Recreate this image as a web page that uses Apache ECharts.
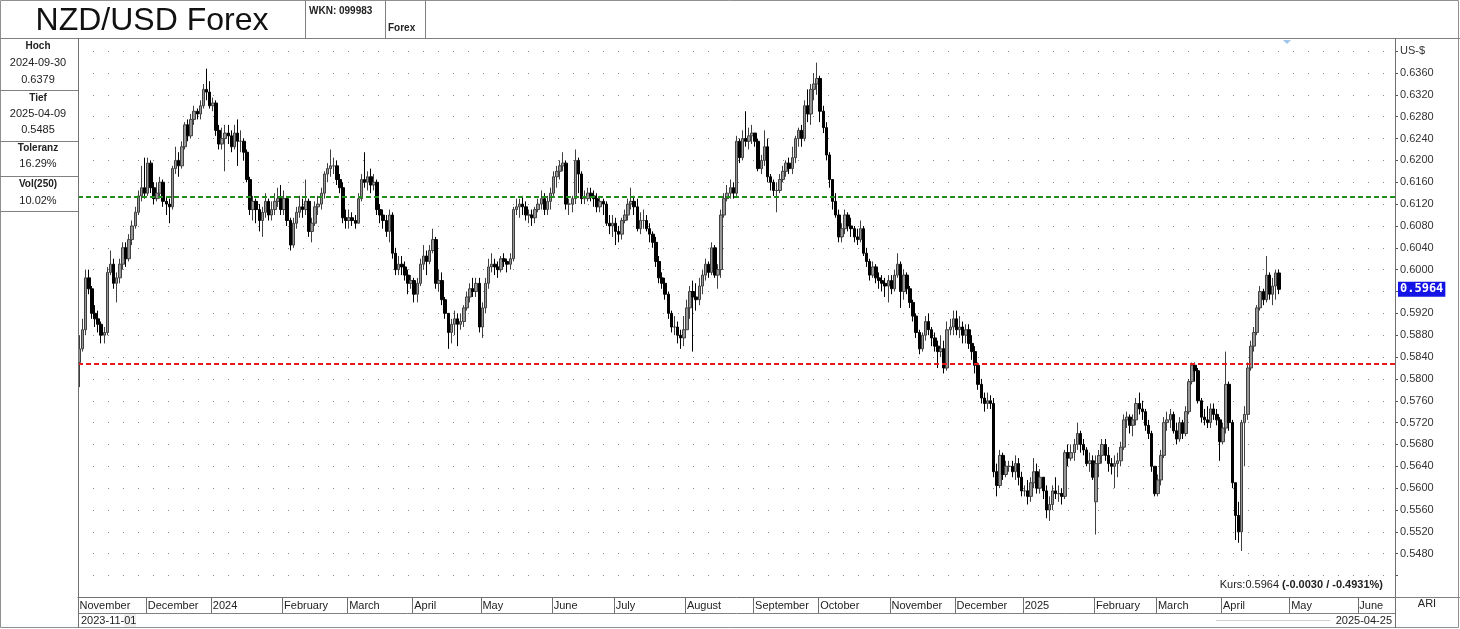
<!DOCTYPE html>
<html><head><meta charset="utf-8">
<script src="https://cdn.jsdelivr.net/npm/echarts/dist/echarts.min.js"></script>
<style>html,body{margin:0;padding:0;background:#fff}#c{width:1460px;height:629px}</style>
</head><body><div id="c"></div>
<script>
// ---------- data (prices in 1/10000 US-$) ----------
const firstDate = '2023-11-01';
const axisEndDate = '2025-06-17';
const firstOpen = 5830;
const gapOpens = [['2025-02-03', 5575]];
const closes = [
5855,5890,5985,5965,5920,5910,5900,5880,5885,5995,6010,5975,5985,6010,6040,6020,6055,6080,6105,6135,6150,6140,
6195,6150,6130,6140,6160,6125,6120,6115,6185,6200,6190,6225,6265,6245,6275,6290,6285,6300,6330,6325,6300,
6305,6255,6230,6240,6250,6245,6225,6250,6235,6235,6215,6165,6110,6125,6110,6090,6105,6125,6100,6110,6125,6130,6110,
6130,6090,6045,6085,6105,6115,6110,6125,6070,6085,6115,6120,6140,6175,6185,6190,6190,6165,6150,6095,6090,
6095,6090,6085,6130,6165,6160,6170,6155,6160,6110,6100,6090,6070,6100,6030,6000,6010,6005,5990,5975,5980,
5955,5975,6010,6025,6015,6035,6055,5975,5980,5945,5920,5885,5900,5910,5900,5905,5930,5950,5965,5960,5975,5895,
5930,5975,6005,6010,6005,6000,6020,6015,6010,6020,6110,6115,6120,6115,6100,6100,6095,6110,6120,6130,6110,6125,6140,
6170,6180,6190,6195,6120,6120,6130,6200,6175,6130,6130,6140,6135,6130,6115,6125,6120,6085,6080,6085,
6070,6065,6090,6100,6120,6125,6115,6075,6090,6090,6075,6065,6050,6015,5985,5975,5955,5920,5895,5895,5880,5875,5890,
5930,5960,5950,5945,5970,5990,6010,5995,6040,5990,6000,6100,6130,6140,6150,6140,6235,6205,6240,6235,6245,6250,
6235,6185,6200,6225,6170,6160,6145,6145,6165,6180,6195,6185,6205,6240,6255,6240,6300,6285,6330,6340,6350,
6290,6260,6210,6165,6125,6100,6060,6075,6100,6080,6075,6060,6055,6075,6030,6015,5990,6005,5985,5980,5975,5970,5980,
5965,5990,6010,5960,5990,5965,5940,5915,5885,5855,5880,5905,5890,5875,5860,5850,5855,5820,5890,5895,5910,
5890,5895,5880,5890,5865,5850,5825,5790,5765,5755,5760,5755,5630,5605,5660,5625,5640,5640,5630,5645,5620,5595,
5595,5585,5610,5630,5600,5620,5595,5560,5570,5595,5590,5590,5585,5665,5655,5665,5680,5700,5680,5670,5645,5650,5620,
5645,5660,5680,5660,5645,5640,5645,5650,5675,5725,5730,5715,5725,5755,5745,5740,5715,5700,5640,5590,
5615,5660,5720,5725,5735,5705,5690,5720,5700,5740,5795,5825,5815,5760,5730,5725,5720,5745,5735,5725,5685,
5710,5790,5720,5610,5550,5520,5720,5735,5820,5860,5885,5930,5960,5945,5990,5955,5970,5994,5964
];
const highs = [
5880,5910,6000,6000,5970,5935,5925,5905,5895,6005,6035,6020,5995,6020,6050,6050,6065,6090,6115,6145,6190,6205,
6205,6200,6160,6160,6170,6165,6135,6130,6190,6225,6215,6235,6270,6275,6285,6300,6295,6310,6340,6368,6345,
6315,6310,6265,6260,6265,6265,6255,6265,6275,6255,6240,6220,6170,6135,6130,6120,6115,6140,6130,6125,6140,6150,6155,
6145,6135,6095,6095,6115,6135,6130,6165,6130,6095,6125,6135,6150,6180,6195,6220,6205,6200,6175,6160,6110,
6110,6105,6100,6140,6175,6215,6180,6185,6175,6165,6120,6110,6100,6110,6105,6040,6025,6025,6015,6000,5990,
5985,5985,6020,6045,6035,6045,6075,6060,6000,5995,5950,5920,5910,5925,5920,5920,5935,5960,5975,5985,5985,5985,
5940,5985,6020,6030,6020,6015,6025,6030,6020,6030,6115,6130,6130,6135,6125,6110,6110,6115,6130,6145,6140,6135,6150,
6180,6190,6200,6215,6200,6130,6135,6220,6205,6180,6145,6150,6150,6145,6140,6135,6130,6125,6100,6100,
6095,6080,6095,6110,6130,6150,6135,6130,6105,6110,6100,6085,6070,6060,6025,5995,5985,5960,5925,5915,5905,5890,5915,
5945,5970,5980,5975,5985,6000,6020,6015,6050,6045,6010,6110,6140,6155,6165,6160,6245,6240,6255,6290,6260,6265,
6250,6240,6210,6255,6240,6175,6165,6160,6175,6190,6200,6205,6225,6245,6260,6265,6310,6330,6340,6360,6379,
6355,6300,6270,6215,6165,6140,6110,6085,6110,6105,6095,6080,6075,6090,6080,6040,6020,6015,6010,5995,5990,5985,5990,
5990,6000,6030,6015,6000,5995,5970,5945,5920,5890,5885,5915,5920,5895,5885,5870,5880,5870,5905,5910,5925,
5925,5915,5905,5900,5900,5880,5860,5830,5800,5775,5775,5770,5765,5645,5670,5665,5650,5650,5650,5660,5655,5630,
5605,5615,5620,5655,5645,5635,5615,5605,5585,5605,5620,5605,5600,5670,5680,5680,5690,5720,5705,5690,5675,5665,5660,
5660,5670,5690,5690,5675,5655,5660,5665,5685,5735,5740,5735,5735,5765,5775,5760,5745,5725,5705,5640,
5625,5670,5730,5740,5745,5740,5720,5730,5725,5750,5800,5830,5830,5820,5765,5745,5750,5755,5755,5745,5730,
5720,5850,5795,5725,5610,5575,5725,5750,5830,5870,5895,5935,5970,5965,6025,5995,5985,6000,6000
];
const lows = [
5785,5850,5880,5955,5910,5895,5885,5865,5865,5880,5990,5965,5940,5975,6000,6005,6015,6045,6075,6100,6125,6130,
6135,6140,6120,6125,6130,6115,6100,6085,6110,6175,6170,6185,6220,6235,6240,6265,6275,6275,6295,6310,6295,
6290,6245,6220,6220,6180,6230,6215,6220,6190,6215,6200,6160,6100,6090,6085,6070,6060,6095,6090,6090,6100,6115,6100,
6100,6080,6035,6040,6075,6095,6095,6100,6060,6050,6080,6100,6110,6130,6160,6170,6175,6155,6140,6085,6075,
6075,6080,6075,6085,6125,6150,6145,6140,6145,6100,6085,6075,6060,6050,6020,5990,5990,5990,5980,5955,5965,
5940,5940,5970,6000,5990,6010,6030,5965,5960,5935,5910,5855,5865,5880,5860,5890,5895,5925,5940,5950,5950,5885,
5875,5920,5965,5995,5990,5985,5995,6005,5995,6000,6015,6100,6095,6100,6090,6085,6080,6085,6105,6110,6100,6100,6110,
6135,6150,6165,6180,6110,6100,6105,6120,6140,6120,6120,6125,6125,6115,6105,6105,6100,6080,6065,6060,
6045,6050,6055,6085,6090,6110,6100,6070,6065,6075,6070,6050,6040,6005,5975,5965,5945,5910,5885,5880,5865,5855,5860,
5890,5910,5850,5925,5935,5955,5980,5985,5990,5985,5965,5985,6095,6125,6130,6130,6135,6195,6200,6225,6220,6230,
6225,6180,6175,6190,6160,6145,6135,6105,6140,6160,6170,6175,6175,6195,6225,6225,6235,6270,6265,6310,6320,
6270,6250,6200,6150,6110,6095,6050,6050,6065,6070,6060,6050,6045,6050,6025,6005,5980,5985,5975,5965,5960,5950,5940,
5955,5960,5985,5930,5945,5955,5930,5905,5875,5845,5850,5870,5880,5860,5850,5820,5840,5810,5815,5880,5880,
5880,5875,5865,5865,5855,5835,5810,5780,5755,5740,5745,5745,5620,5585,5600,5615,5620,5630,5620,5615,5605,5585,
5585,5570,5575,5600,5590,5590,5580,5545,5540,5560,5580,5575,5570,5580,5640,5650,5650,5670,5665,5660,5640,5630,5615,
5515,5620,5645,5650,5630,5625,5600,5620,5640,5670,5710,5700,5695,5715,5735,5725,5705,5690,5630,5585,
5585,5605,5655,5705,5710,5700,5680,5685,5690,5695,5735,5790,5795,5755,5720,5715,5710,5710,5725,5715,5650,
5680,5700,5705,5600,5505,5500,5485,5640,5725,5815,5850,5880,5925,5935,5940,5945,5935,5945,5955
];
const greenLevel = 0.6133;
const redLevel = 0.5827;
const yMin = 0.5400, yMax = 0.6440, yStep = 0.0040;
const monthNames = ['January','February','March','April','May','June','July','August','September','October','November','December'];
const titleText = 'NZD/USD Forex';
const wknText = 'WKN: 099983';
const typeText = 'Forex';
const infoRows = [['Hoch','2024-09-30','0.6379'],['Tief','2025-04-09','0.5485'],['Toleranz','16.29%'],['Vol(250)','10.02%']];
const kursText = 'Kurs:0.5964 ';
const kursChange = '(-0.0030 / -0.4931%)';
const footRight = 'ARI';

// ---------- build ----------
const FONT = 'Arial, "Liberation Sans", sans-serif';
const dates = [];
(function(){
  let d = new Date(firstDate + 'T00:00:00Z');
  const end = new Date(axisEndDate + 'T00:00:00Z');
  while (d <= end) {
    const wd = d.getUTCDay();
    if (wd !== 0 && wd !== 6) dates.push(d.toISOString().slice(0,10));
    d = new Date(d.getTime() + 86400000);
  }
})();
const monthStarts = new Set();
dates.forEach((d,i)=>{ if (i===0 || d.slice(0,7)!==dates[i-1].slice(0,7)) monthStarts.add(i); });
const gapMap = {}; gapOpens.forEach(g=>gapMap[g[0]]=g[1]);
const candles = closes.map((c,i)=>{
  let o = i===0 ? firstOpen : closes[i-1];
  if (gapMap[dates[i]] !== undefined) o = gapMap[dates[i]];
  return [o/1e4, c/1e4, lows[i]/1e4, highs[i]/1e4];
});
const lastClose = closes[closes.length-1]/1e4;

const chart = echarts.init(document.getElementById('c'), null, {renderer:'canvas'});
const gridTop = 29.3, gridBottom = 629 - 597.4;

function txt(x,y,text,opt){
  opt = opt||{};
  return {type:'text', x:x, y:y, z:opt.z||110, silent:true, style:{
    text:text, fontSize:opt.size||11, fontFamily:opt.family||FONT, fontWeight:opt.bold?'bold':'normal',
    fill:opt.color||'#222', textAlign:opt.align||'left', align:opt.align||'left',
    textVerticalAlign:'middle', verticalAlign:'middle'}};
}
function ln(x1,y1,x2,y2,c,z){
  return {type:'line', z:z||110, silent:true, shape:{x1:x1,y1:y1,x2:x2,y2:y2}, style:{stroke:c||'#808080', lineWidth:1}};
}
const g = [];
g.push({type:'rect', z:100, silent:true, shape:{x:0,y:0,width:1460,height:38}, style:{fill:'#fff'}});
g.push(txt(152,21,titleText,{size:32,align:'center',color:'#111'}));
g.push(txt(309,11,wknText,{size:10,bold:true}));
g.push(txt(388,28,typeText,{size:10,bold:true}));
g.push(ln(305.5,0,305.5,38)); g.push(ln(385.5,0,385.5,38)); g.push(ln(425.5,0,425.5,38));
g.push(ln(0,38.5,1460,38.5,'#808080'));
// left info panel
const rowY = [[46,63,80],[98,114,130],[148,164],[184,201]];
infoRows.forEach((r,i)=>{ r.forEach((t,j)=>g.push(txt(38,rowY[i][j],t,{bold:j===0,align:'center',size:j===0?10:11}))); });
[90.5,141.5,176.5,211.5].forEach(y=>g.push(ln(0,y,78,y)));
g.push(ln(78.5,38,78.5,628,'#707070'));
g.push(ln(1395.5,38,1395.5,628,'#707070'));
g.push(ln(1395,597.5,1460,597.5));
g.push(ln(78,613.5,1395,613.5));
g.push({type:'rect', z:109, silent:true, shape:{x:0.5,y:0.5,width:1458,height:627}, style:{fill:null, stroke:'#909090', lineWidth:1}});
g.push(txt(1427,604,footRight,{size:11,align:'center'}));
g.push(txt(81,620.5,dates[0],{size:11}));
g.push({type:'rect', z:105, silent:true, shape:{x:124,y:614,width:12,height:13}, style:{fill:'#eeeeee'}});
g.push(ln(1216,620.5,1330,620.5,'#cfcfcf'));
g.push(txt(1392,620.5,dates[closes.length-1],{size:11,align:'right'}));
g.push({type:'text', x:1383, y:585, z:110, silent:true, style:{
  text:'{n|'+kursText+'}{b|'+kursChange+'}', textAlign:'right', align:'right', textVerticalAlign:'middle', verticalAlign:'middle',
  rich:{n:{fontSize:11,fontFamily:FONT,fill:'#222',color:'#222'}, b:{fontSize:11,fontFamily:FONT,fontWeight:'bold',fill:'#222',color:'#222'}}}});
g.push({type:'polygon', z:110, silent:true, shape:{points:[[1283,40],[1291,40],[1287,44]]}, style:{fill:'#9ec5ea'}});

chart.setOption({
  animation:false,
  backgroundColor:'#fff',
  grid:{left:78, right:65, top:gridTop, bottom:gridBottom, containLabel:false},
  xAxis:{
    type:'category', data:dates, boundaryGap:true,
    axisLine:{show:true, lineStyle:{color:'#707070'}},
    axisTick:{show:true, length:16, interval:(i)=>monthStarts.has(i), lineStyle:{color:'#707070'}},
    axisLabel:{show:true, interval:0, hideOverlap:false,
      align:'left', margin:3, fontSize:11, fontFamily:FONT, color:'#222',
      formatter:(v,i)=>{ if(!monthStarts.has(i)) return ''; const m=+v.slice(5,7); return m===1 ? v.slice(0,4) : monthNames[m-1];}},
    splitLine:{show:false}
  },
  yAxis:{
    type:'value', position:'right', min:yMin, max:yMax, interval:yStep, scale:false,
    axisLine:{show:true, lineStyle:{color:'#707070'}},
    axisTick:{show:true, length:3, lineStyle:{color:'#555'}},
    axisLabel:{margin:5, fontSize:11, fontFamily:FONT, color:'#333',
      formatter:(v)=>{ if (v>0.6438) return ''; if (Math.abs(v-0.64)<1e-6) return 'US-$'; if (v<0.5478) return ''; return v.toFixed(4);} },
    splitLine:{show:true, lineStyle:{type:[1,14], color:'#8a8a8a', width:1}}
  },
  graphic:{elements:g},
  series:[{
    type:'candlestick', data:candles, barWidth:3,
    itemStyle:{color:'#969696', color0:'#000000', borderColor:'#404040', borderColor0:'#000000', borderWidth:1},
    markLine:{
      silent:true, symbol:'none', animation:false, precision:4,
      data:[
        {yAxis:greenLevel, lineStyle:{color:'#1f8f1f', type:[5,3], width:2}, label:{show:false}},
        {yAxis:redLevel, lineStyle:{color:'#e8191f', type:[5,3], width:2}, label:{show:false}},
        {yAxis:lastClose, lineStyle:{color:'rgba(0,0,0,0)', width:0}, label:{show:true, position:'end', distance:3,
          formatter:lastClose.toFixed(4), backgroundColor:'#1414e6', color:'#fff', padding:[2,2,1,2],
          fontSize:12, fontFamily:'"DejaVu Sans Mono", monospace', fontWeight:'bold'}}
      ]
    }
  }]
});
</script></body></html>
